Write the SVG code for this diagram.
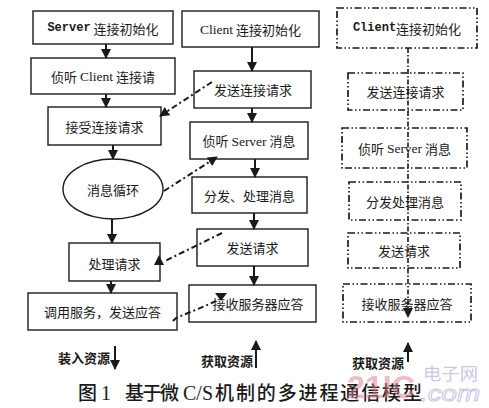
<svg xmlns="http://www.w3.org/2000/svg" width="489" height="408" viewBox="0 0 489 408">
<defs>
<style>
.box{fill:none;stroke:#1a1a1a;stroke-width:1.4}
.dbox{fill:none;stroke:#1a1a1a;stroke-width:1.7;stroke-dasharray:7 2.5 1.5 2.5 1.5 2.5}
.t{font-family:"Noto Sans CJK SC","Liberation Serif",sans-serif;font-size:13px;fill:#1a1a1a;text-anchor:middle;dominant-baseline:central}
.lat{font-family:"Liberation Serif",serif;font-size:13.5px}
.mono{font-family:"Liberation Mono",monospace;font-size:12px;font-weight:bold}
.sol{fill:none;stroke:#1a1a1a;stroke-width:2}
.dd{fill:none;stroke:#1a1a1a;stroke-width:2;stroke-dasharray:6 3 2 3}
.dv{fill:none;stroke:#1a1a1a;stroke-width:1.6;stroke-dasharray:5 2 1.5 2}
.cap{font-family:"Noto Sans CJK SC",sans-serif;font-size:19px;fill:#1a1a1a;font-weight:500}
.capl{font-family:"Liberation Serif",serif;font-size:20px;fill:#1a1a1a}
</style>
<marker id="ah" markerWidth="10" markerHeight="10" refX="9" refY="5" orient="auto" markerUnits="userSpaceOnUse">
<path d="M0,0 L10,5 L0,10 z" fill="#1a1a1a"/>
</marker>
</defs>
<rect width="489" height="408" fill="#fff"/>

<g id="server-init"><rect class="box" x="33" y="11" width="140" height="33"/><text class="t" x="103" y="28"><tspan class="mono">Server</tspan> 连接初始化</text></g>
<g id="listen-client"><rect class="box" x="31" y="58" width="144" height="36"/><text class="t" x="103" y="76">侦听 <tspan class="lat">Client</tspan> 连接请</text></g>
<g id="accept"><rect class="box" x="48" y="107" width="113" height="38"/><text class="t" x="104.5" y="126">接受连接请求</text></g>
<g id="loop"><ellipse class="box" cx="113" cy="189" rx="50" ry="30"/><text class="t" x="113" y="189">消息循环</text></g>
<g id="handle"><rect class="box" x="69" y="243" width="91" height="38"/><text class="t" x="114.5" y="263">处理请求</text></g>
<g id="call"><rect class="box" x="28" y="293" width="149" height="37"/><text class="t" x="102.5" y="311.5">调用服务，发送应答</text></g>

<g id="client-init"><rect class="box" x="182" y="11" width="137" height="36"/><text class="t" x="250.5" y="29"><tspan class="lat">Client</tspan> 连接初始化</text></g>
<g id="send-conn"><rect class="box" x="194" y="71" width="117" height="37"/><text class="t" x="253" y="89.5">发送连接请求</text></g>
<g id="listen-server"><rect class="box" x="190" y="122" width="118" height="37"/><text class="t" x="249" y="140.5">侦听 <tspan class="lat">Server</tspan> 消息</text></g>
<g id="dispatch"><rect class="box" x="192" y="177" width="115" height="36"/><text class="t" x="249.5" y="195">分发、处理消息</text></g>
<g id="send-req"><rect class="box" x="197" y="229" width="111" height="37"/><text class="t" x="252.5" y="247.5">发送请求</text></g>
<g id="recv"><rect class="box" x="189" y="285" width="127" height="37"/><text class="t" x="258" y="303.5">接收服务器应答</text></g>

<g id="client2-init"><rect class="dbox" x="337" y="8" width="140" height="40"/><text class="t" x="407" y="28"><tspan class="mono">Client</tspan>连接初始化</text></g>
<g id="send-conn2"><rect class="dbox" x="348" y="73" width="115" height="37"/><text class="t" x="405.5" y="91.5">发送连接请求</text></g>
<g id="listen-server2"><rect class="dbox" x="342" y="128" width="125" height="40"/><text class="t" x="404.5" y="148">侦听 <tspan class="lat">Server</tspan> 消息</text></g>
<g id="dispatch2"><rect class="dbox" x="349" y="182" width="112" height="38"/><text class="t" x="405" y="201">分发处理消息</text></g>
<g id="send-req2"><rect class="dbox" x="348" y="233" width="112" height="35"/><text class="t" x="404" y="250.5">发送请求</text></g>
<g id="recv2"><rect class="dbox" x="343" y="284" width="128" height="38"/><text class="t" x="407" y="303">接收服务器应答</text></g>

<g id="connectors">
<line class="sol" x1="106" y1="44" x2="106" y2="58" marker-end="url(#ah)"/>
<line class="sol" x1="106" y1="94" x2="106" y2="107" marker-end="url(#ah)"/>
<line class="sol" x1="113" y1="145" x2="113" y2="159" marker-end="url(#ah)"/>
<line class="sol" x1="112" y1="219" x2="112" y2="243" marker-end="url(#ah)"/>
<line class="sol" x1="111" y1="281" x2="111" y2="293" marker-end="url(#ah)"/>
<line class="sol" x1="252" y1="47" x2="252" y2="71" marker-end="url(#ah)"/>
<line class="sol" x1="252" y1="108" x2="252" y2="122" marker-end="url(#ah)"/>
<line class="sol" x1="255" y1="159" x2="255" y2="177" marker-end="url(#ah)"/>
<line class="sol" x1="254" y1="213" x2="254" y2="229" marker-end="url(#ah)"/>
<line class="sol" x1="254" y1="266" x2="254" y2="285" marker-end="url(#ah)"/>
<line class="dd" x1="212" y1="82" x2="160" y2="116" marker-end="url(#ah)"/>
<line class="dd" x1="164" y1="191" x2="217" y2="157" marker-end="url(#ah)"/>
<line class="dd" x1="222" y1="233" x2="165" y2="261"/>
<path d="M154,265 L159,255 L164,265 z" fill="#1a1a1a"/>
<path class="dd" d="M173,321 L176,318 L205,306 L218,300"/>
<path d="M215,293 L227,293 L221,301 z" fill="#1a1a1a"/>
<line class="dv" x1="408" y1="48" x2="408" y2="312"/>
<path d="M403,308 L413,308 L408,318 z" fill="#1a1a1a"/>
<line class="sol" x1="115" y1="346" x2="115" y2="369" marker-end="url(#ah)"/>
<line class="sol" x1="256" y1="368" x2="256" y2="341" marker-end="url(#ah)"/>
<line class="sol" x1="408" y1="362" x2="408" y2="343" marker-end="url(#ah)"/>
</g>

<g id="labels">
<text class="t" x="84" y="357" font-weight="bold">装入资源</text>
<text class="t" x="227" y="360" font-weight="bold">获取资源</text>
<text class="t" x="378" y="362" font-weight="bold">获取资源</text>
<text class="cap" y="400"><tspan x="78">图</tspan><tspan class="capl" x="101">1</tspan><tspan x="125" textLength="54" lengthAdjust="spacing">基于微</tspan><tspan class="capl" x="183">C/S</tspan><tspan x="215" textLength="207" lengthAdjust="spacing">机制的多进程通信模型</tspan></text>
</g>

<g id="watermark" opacity="0.5">
<text x="347" y="398" font-family="Liberation Sans, sans-serif" font-size="32" font-weight="bold" fill="#e07a8a" textLength="68" lengthAdjust="spacingAndGlyphs">21IC</text>
<text x="423" y="380" font-family="Noto Sans CJK SC, sans-serif" font-size="17" fill="#9a8fc8" textLength="55" lengthAdjust="spacingAndGlyphs">电子网</text>
<text x="420" y="401" font-family="Liberation Sans, sans-serif" font-size="22" font-style="italic" fill="none" stroke="#9a8fc8" stroke-width="1" textLength="60" lengthAdjust="spacingAndGlyphs">.com</text>
</g>
</svg>
